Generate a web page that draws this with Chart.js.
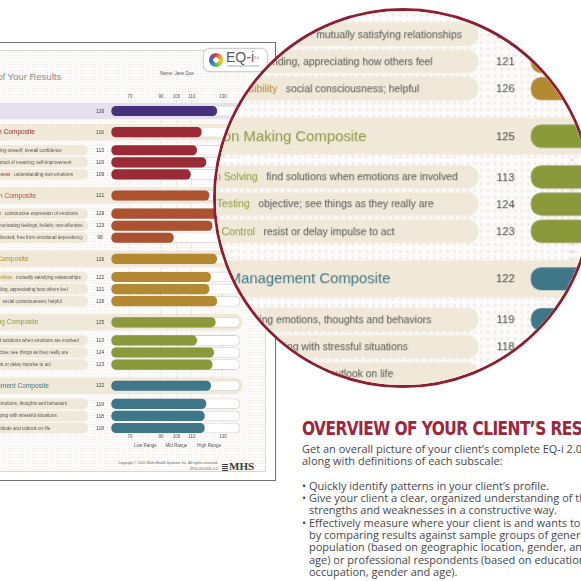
<!DOCTYPE html>
<html>
<head>
<meta charset="utf-8">
<script src="https://cdn.jsdelivr.net/npm/chart.js@4.4.1/dist/chart.umd.min.js"></script>
<style>
html, body { margin: 0; padding: 0; }
body {
    width: 581px; height: 581px; overflow: hidden; position: relative;
    background: #fff; font-family: "Liberation Sans", Arial, sans-serif;
}
.report { position: absolute; left: -120px; top: 0; width: 400px; height: 482px; }
.frame { position: absolute; left: 0; top: 42px; width: 394px; height: 437px; border: 1px solid #707070; background: #fff; }
.page {
    position: absolute; left: 0; top: 50px; width: 384px; height: 420px; border: 1px solid #d6d6d6;
    background-color: #fcfbf9;
    background-image: radial-gradient(rgba(205,175,175,.22) .5px, transparent .9px);
    background-size: 3px 3px;
}
.title { position: absolute; left: 75px; top: 72px; font-size: 9.5px; line-height: 10px; color: #8c8c8c; white-space: nowrap; }
.name { position: absolute; left: 280px; top: 71px; font-size: 4.5px; line-height: 5px; color: #555; white-space: nowrap; }
.logo {
    position: absolute; left: 323px; top: 48px; width: 63px; height: 22px;
    border: 1px solid #cfcfcf; border-radius: 7px; background: #fff; box-shadow: 0 0 2px rgba(0,0,0,.18);
}
.flower {
    position: absolute; left: 5px; top: 4px; width: 14px; height: 14px; border-radius: 50%;
    background: radial-gradient(circle, #fff 0 2.5px, transparent 3px),
        conic-gradient(#e5412e, #f39a1f, #f1cf1e, #8cc63f, #2aa7a0, #3b6cb4, #7b4a9c, #e5412e);
}
.eq { position: absolute; left: 22px; top: 1px; font-size: 14px; line-height: 15px; color: #5a5a5a; white-space: nowrap; }
.eq sup { font-size: 3.5px; vertical-align: top; position: relative; top: 1px; }
.tag { position: absolute; left: 23px; top: 16px; font-size: 2.6px; line-height: 3px; color: #888; white-space: nowrap; }
.copy { position: absolute; left: 213px; top: 460px; width: 125px; text-align: right; font-size: 3.6px; line-height: 6px; color: #666; white-space: nowrap; }
.mhs { position: absolute; left: 342px; top: 461px; font-family: "Liberation Serif", serif; font-weight: bold; font-size: 11px; line-height: 11px; color: #3a3a3a; white-space: nowrap; }
.mhs i {
    display: inline-block; width: 6px; height: 7px; margin-right: 1px; vertical-align: -0.5px;
    background: repeating-linear-gradient(#3a3a3a 0 1px, transparent 1px 2px);
}
.report canvas { position: absolute; left: 0; top: 93px; }
.lens {
    position: absolute; left: 213px; top: 8px; width: 380px; height: 380px; box-sizing: border-box;
    border: 3px solid #8e1f30; border-radius: 50%; overflow: hidden; background: #fdfcfa;
}
.lens .report { left: 0; top: 0; transform-origin: 0 0; transform: translate(-206px, -600px) scale(2.25); }
.lens .frame { border-color: transparent; background: transparent; }
.heading {
    position: absolute; left: 302px; top: 418px; white-space: nowrap;
    font-family: "Liberation Sans Narrow", "DejaVu Sans Condensed", sans-serif; font-weight: bold;
    font-size: 19px; line-height: 20px; letter-spacing: -0.6px; color: #a0243a;
    transform-origin: 0 0; transform: scaleX(0.9);
}
.copytext {
    position: absolute; left: 302px; top: 443px; white-space: nowrap;
    font-family: "Open Sans", sans-serif; font-size: 11px; line-height: 12.3px; letter-spacing: 0; color: #474747;
}
.copytext .b { position: relative; padding-left: 7px; }
.copytext .b::before { content: "\2022"; position: absolute; left: 0; }
</style>
</head>
<body>

<div class="heading">OVERVIEW OF YOUR CLIENT’S RESULTS</div>
<div class="copytext">
    <div>Get an overall picture of your client’s complete EQ-i 2.0 results</div>
    <div>along with definitions of each subscale:</div>
    <div>&nbsp;</div>
    <div class="b">Quickly identify patterns in your client’s profile.</div>
    <div class="b">Give your client a clear, organized understanding of their<br>strengths and weaknesses in a constructive way.</div>
    <div class="b">Effectively measure where your client is and wants to be<br>by comparing results against sample groups of general<br>population (based on geographic location, gender, and<br>age) or professional respondents (based on education,<br>occupation, gender and age).</div>
</div>

<script>
// --- Data ---
const tickValues = [70, 90, 100, 110, 130];
const rangeLabels = ['Low Range', 'Mid Range', 'High Range'];
const rangeCenters = [80, 100, 121];

const totalLabel = 'Total EI';
const totalScore = 126;
const totalColor = '#47307c';

const groupNames = ['Self-Perception Composite', 'Self-Expression Composite', 'Interpersonal Composite',
    'Decision Making Composite', 'Stress Management Composite'];
const groupScores = [116, 121, 126, 125, 122];
const groupColors = ['#9a2b36', '#ad5230', '#b38a32', '#8a9a3a', '#3f7789'];

const subNames = ['Self-Regard', 'Self-Actualization', 'Emotional Self-Awareness',
    'Emotional Expression', 'Assertiveness', 'Independence',
    'Interpersonal Relationships', 'Empathy', 'Social Responsibility',
    'Problem Solving', 'Reality Testing', 'Impulse Control',
    'Flexibility', 'Stress Tolerance', 'Optimism'];
const subDefs = ['respecting oneself; overall confidence', 'pursuit of meaning; self-improvement', 'understanding own emotions',
    'constructive expression of emotions', 'communicating feelings, beliefs; non-offensive', 'self directed; free from emotional dependency',
    'mutually satisfying relationships', 'understanding, appreciating how others feel', 'social consciousness; helpful',
    'find solutions when emotions are involved', 'objective; see things as they really are', 'resist or delay impulse to act',
    'adapting emotions, thoughts and behaviors', 'coping with stressful situations', 'positive attitude and outlook on life'];
const subScores = [113, 119, 109, 129, 123, 98, 122, 121, 126, 113, 124, 123, 119, 118, 118];

// --- Layout constants ---
const SCALE_MIN = 57.5, SCALE_MAX = 141.5, BAR_BASE = 58.2, TRACK_END = 141;
const STEP_GROUP = 7, STEP_HEAD = 6, STEP_SUB = 4; // row spacing in y-scale units

function buildRows() {
    const rows = [{ kind: 'total', name: totalLabel, def: '', score: totalScore, color: totalColor, pos: 0 }];
    let pos = 0;
    groupNames.forEach((g, gi) => {
        pos += STEP_GROUP;
        rows.push({ kind: 'group', name: g, def: '', score: groupScores[gi], color: groupColors[gi], pos });
        pos += STEP_HEAD - STEP_SUB;
        for (let k = 0; k < 3; k++) {
            const i = gi * 3 + k;
            pos += STEP_SUB;
            rows.push({ kind: 'sub', name: subNames[i], def: subDefs[i], score: subScores[i], color: groupColors[gi], pos });
        }
    });
    return rows;
}
const rows = buildRows();

// bands, labels and values beside the bars
const reportDecor = {
    id: 'reportDecor',
    beforeDatasetsDraw(chart) {
        const { ctx, chartArea: a, scales: { y } } = chart;
        ctx.save();
        rows.forEach(r => {
            const cy = y.getPixelForValue(r.pos);
            const sub = r.kind === 'sub';
            const h = sub ? 10.5 : 16.5;
            const left = a.left - 175;
            const right = sub ? a.left - 22.5 : a.right + 2;
            ctx.fillStyle = r.kind === 'total' ? '#e6e0ee' : '#f0e8d9';
            ctx.beginPath();
            ctx.roundRect(left, cy - h / 2, right - left, h, h / 2);
            ctx.fill();

            ctx.textBaseline = 'middle';
            ctx.textAlign = 'left';
            const tx = a.left - 154;
            ctx.font = (sub ? '4.6px' : '6.6px') + ' "Liberation Sans", Arial, sans-serif';
            ctx.fillStyle = r.color;
            ctx.fillText(r.name, tx, cy + 0.3);
            if (r.def) {
                const w = ctx.measureText(r.name + '   ').width;
                ctx.fillStyle = '#555';
                ctx.fillText(r.def, tx + w, cy + 0.3);
            }
            ctx.textAlign = 'center';
            ctx.font = '5px "Liberation Sans", Arial, sans-serif';
            ctx.fillStyle = '#444';
            ctx.fillText(String(r.score), a.left - 10.5, cy + 0.3);
        });
        ctx.restore();
    },
    afterDraw(chart) {
        const { ctx, scales: { x2 } } = chart;
        ctx.save();
        ctx.font = '4.5px "Liberation Sans", Arial, sans-serif';
        ctx.fillStyle = '#555';
        ctx.textAlign = 'center';
        ctx.textBaseline = 'middle';
        rangeLabels.forEach((t, i) => ctx.fillText(t, x2.getPixelForValue(rangeCenters[i]), x2.bottom + 5));
        ctx.restore();
    }
};

function axisX(position, showGrid) {
    return {
        type: 'linear', position, min: SCALE_MIN, max: SCALE_MAX, offset: false,
        afterBuildTicks: s => { s.ticks = tickValues.map(v => ({ value: v })); },
        afterFit: s => { s.height = 8; },
        grid: { display: showGrid, color: '#d6c2c2', lineWidth: 0.7, drawTicks: false },
        border: { display: false, dash: [1.2, 2.2] },
        ticks: { color: '#555', padding: 1.5, font: { size: 4.5, family: '"Liberation Sans", Arial, sans-serif' } }
    };
}

function makeChart(canvas, dpr) {
    return new Chart(canvas, {
        type: 'bar',
        data: {
            datasets: [{
                data: rows.map(r => ({ x: r.score, y: r.pos })),
                backgroundColor: rows.map(r => r.color),
                base: BAR_BASE, barThickness: 9.5, borderRadius: 4.5, borderSkipped: false, grouped: false
            }, {
                data: rows.map(r => ({ x: TRACK_END, y: r.pos })),
                backgroundColor: '#ffffff', borderColor: '#d4cfcc', borderWidth: 0.8,
                base: BAR_BASE, barThickness: 10, borderRadius: 5, borderSkipped: false, grouped: false
            }]
        },
        options: {
            indexAxis: 'y',
            responsive: false,
            animation: false,
            events: [],
            devicePixelRatio: dpr,
            layout: { padding: { left: 230.6, right: 21.2, top: 0, bottom: 12 } },
            plugins: { legend: { display: false }, tooltip: { enabled: false } },
            scales: {
                x: axisX('top', true),
                x2: axisX('bottom', false),
                y: { type: 'linear', reverse: true, offset: false, min: -3.31, max: 106.66, display: false }
            }
        },
        plugins: [reportDecor]
    });
}

function buildReport(parent, dpr) {
    const rep = document.createElement('div');
    rep.className = 'report';
    rep.innerHTML = `
        <div class="frame"></div>
        <div class="page"></div>
        <div class="title">Overview of Your Results</div>
        <div class="name">Name: Jane Doe</div>
        <div class="logo"><div class="flower"></div><div class="eq">EQ-i<sup>2.0</sup></div>
            <div class="tag">emotional quotient inventory</div></div>
        <div class="copy">Copyright © 2011 Multi-Health Systems Inc. All rights reserved.<br>3700-001/001-0.5</div>
        <div class="mhs"><i></i>MHS</div>`;
    const canvas = document.createElement('canvas');
    canvas.width = 382;
    canvas.height = 360;
    rep.appendChild(canvas);
    parent.appendChild(rep);
    makeChart(canvas, dpr);
}

buildReport(document.body, 1);

const lens = document.createElement('div');
lens.className = 'lens';
document.body.appendChild(lens);
buildReport(lens, 2.25);
</script>
</body>
</html>
